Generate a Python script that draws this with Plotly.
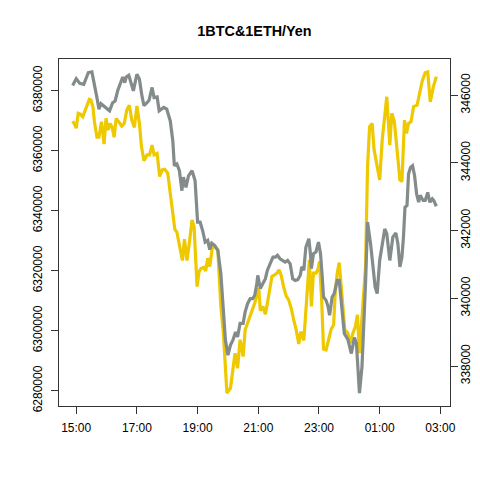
import plotly.graph_objects as go

# 1 BTC in yen (left axis)
btc_time = ["14:53", "14:56", "15:00", "15:04", "15:08", "15:13", "15:18", "15:22", "15:26", "15:29",
            "15:33", "15:36", "15:41", "15:45", "15:50", "15:53", "15:55", "15:59", "16:03", "16:07",
            "16:11", "16:15", "16:19", "16:24", "16:30", "16:35", "16:40", "16:45", "16:50", "16:55",
            "17:00", "17:05", "17:09", "17:14", "17:20", "17:25", "17:30", "17:34", "17:40", "17:45",
            "17:50", "17:55", "18:01", "18:06", "18:11", "18:15", "18:19", "18:24", "18:30", "18:34",
            "18:39", "18:44", "18:49", "18:53", "18:59", "19:03", "19:07", "19:12", "19:16", "19:20",
            "19:24", "19:29", "19:34", "19:40", "19:46", "19:51", "19:58", "20:05", "20:14", "20:19",
            "20:24", "20:30", "20:34", "20:41", "20:49", "20:54", "21:01", "21:04", "21:09", "21:14",
            "21:18", "21:22", "21:27", "21:32", "21:37", "21:41", "21:45", "21:50", "21:55", "22:00",
            "22:05", "22:10", "22:15", "22:20", "22:24", "22:30", "22:34", "22:38", "22:41", "22:45",
            "22:49", "22:54", "22:58", "23:01", "23:05", "23:09", "23:14", "23:19", "23:24", "23:29",
            "23:32", "23:36", "23:40", "23:44", "23:51", "23:57", "00:02", "00:07", "00:12", "00:16",
            "00:20", "00:32", "00:36", "00:40", "00:45", "00:49", "00:55", "01:00", "01:05", "01:09",
            "01:14", "01:20", "01:24", "01:29", "01:34", "01:40", "01:44", "01:49", "01:53", "01:57",
            "02:02", "02:07", "02:14", "02:19", "02:24", "02:30", "02:35", "02:40", "02:46", "02:52"]
btc_yen = [6369900, 6369100, 6367500, 6372500, 6372200, 6371300, 6373600, 6375800, 6377100, 6376900,
           6374700, 6369700, 6364500, 6364500, 6369700, 6365600, 6362200, 6370800, 6366900, 6369100,
           6367800, 6364500, 6370800, 6369700, 6368200, 6369100, 6373600, 6375200, 6370200, 6367800,
           6374900, 6369100, 6361400, 6356700, 6358600, 6358600, 6361900, 6358600, 6359100, 6351400,
           6353600, 6353800, 6352500, 6345800, 6339200, 6333800, 6332900, 6328100, 6323400, 6330500,
           6323400, 6329700, 6336900, 6334700, 6314700, 6319700, 6320800, 6321100, 6319900, 6324200,
           6321400, 6327500, 6328100, 6326900, 6308100, 6299200, 6279200, 6280900, 6292500, 6287500,
           6297000, 6291400, 6300300, 6303600, 6307000, 6309700, 6314200, 6306700, 6308100, 6305500,
           6309200, 6313600, 6318100, 6318600, 6319200, 6320300, 6318600, 6314700, 6311600, 6310300,
           6307500, 6303600, 6300300, 6295600, 6299700, 6296800, 6308100, 6319200, 6323600, 6308100,
           6319200, 6319200, 6320500, 6323100, 6311400, 6293900, 6293600, 6297000, 6300500, 6302000,
           6312500, 6319200, 6322700, 6314700, 6300300, 6299200, 6295900, 6299200, 6301400, 6305300,
           6292500, 6321400, 6354700, 6368000, 6369100, 6360200, 6354700, 6350300, 6363600, 6371300,
           6378000, 6361900, 6372500, 6369700, 6360200, 6350300, 6349700, 6370200, 6365800, 6369100,
           6369700, 6374700, 6375200, 6379100, 6383200, 6386000, 6386300, 6376300, 6381300, 6384700]

# 1 ETH in yen (right axis)
eth_time = ["14:53", "15:00", "15:07", "15:15", "15:24", "15:31", "15:41", "15:45", "15:49", "15:54",
            "16:01", "16:06", "16:12", "16:17", "16:22", "16:28", "16:32", "16:36", "16:39", "16:44",
            "16:49", "16:53", "17:00", "17:05", "17:10", "17:14", "17:20", "17:24", "17:30", "17:34",
            "17:40", "17:44", "17:53", "17:59", "18:06", "18:11", "18:14", "18:19", "18:24", "18:29",
            "18:32", "18:37", "18:42", "18:49", "18:55", "19:00", "19:05", "19:10", "19:15", "19:20",
            "19:24", "19:28", "19:34", "19:40", "19:46", "19:51", "19:55", "20:00", "20:05", "20:10",
            "20:15", "20:19", "20:24", "20:30", "20:34", "20:39", "20:44", "20:49", "20:53", "20:57",
            "20:59", "21:04", "21:09", "21:14", "21:18", "21:24", "21:29", "21:34", "21:38", "21:43",
            "21:49", "21:53", "21:58", "22:03", "22:08", "22:13", "22:18", "22:23", "22:26", "22:30",
            "22:34", "22:40", "22:43", "22:45", "22:49", "22:54", "22:59", "23:03", "23:06", "23:09",
            "23:14", "23:18", "23:21", "23:26", "23:30", "23:36", "23:40", "23:44", "23:50", "23:57",
            "00:04", "00:10", "00:14", "00:20", "00:25", "00:32", "00:36", "00:42", "00:47", "00:51",
            "00:55", "01:00", "01:10", "01:14", "01:20", "01:26", "01:32", "01:36", "01:40", "01:44",
            "01:47", "01:50", "01:54", "01:57", "02:01", "02:05", "02:09", "02:13", "02:17", "02:20",
            "02:26", "02:30", "02:35", "02:39", "02:44", "02:47", "02:52"]
eth_yen = [346290, 346490, 346350, 346320, 346670, 346690, 345930, 345590, 345750, 345690,
           345590, 345540, 345780, 345830, 346130, 346420, 346540, 346370, 346540, 346590,
           346320, 346130, 346620, 346470, 345980, 345690, 345780, 345850, 346230, 345930,
           345950, 345540, 345640, 345590, 345240, 344650, 343920, 343970, 343770, 343180,
           343580, 343280, 343620, 343770, 343480, 342250, 342250, 342000, 341660, 341710,
           341440, 341630, 341560, 341420, 340730, 339750, 338770, 338320, 338620, 338770,
           339010, 338860, 339260, 339260, 339600, 339850, 339990, 339990, 340090, 340430,
           340680, 340290, 340430, 340580, 340830, 341070, 341220, 341220, 341270, 341170,
           341120, 341070, 341120, 341020, 340580, 340530, 340550, 340680, 340930, 340830,
           341510, 341760, 341320, 340880, 341320, 341370, 341660, 341320, 340730, 340040,
           339940, 339750, 339500, 340040, 340140, 340530, 340530, 339940, 338960, 338790,
           338370, 338840, 338670, 337200, 337980, 340430, 342250, 341610, 340930, 340340,
           340140, 341120, 342050, 341910, 341120, 341810, 341930, 341610, 340930, 341220,
           341810, 342690, 342740, 343670, 343870, 343920, 343620, 343080, 342840, 343040,
           342890, 342890, 343130, 342840, 342940, 342890, 342720]

x_ticks = ["15:00", "17:00", "19:00", "21:00", "23:00", "01:00", "03:00"]
btc_ticks = [6280000, 6300000, 6320000, 6340000, 6360000, 6380000]
eth_ticks = [338000, 340000, 342000, 344000, 346000]


def stamp(hm):
    # evening belongs to the first day, small hours to the next one
    day = "2021-04-24" if int(hm[:2]) >= 12 else "2021-04-25"
    return day + " " + hm


font = "Liberation Sans, Arial, sans-serif"
axcol = "#333333"

fig = go.Figure()
fig.add_trace(go.Scatter(
    x=[stamp(t) for t in btc_time], y=btc_yen, mode="lines",
    line=dict(color="#EEC900", width=3.2), name="BTC", yaxis="y"
))
fig.add_trace(go.Scatter(
    x=[stamp(t) for t in eth_time], y=eth_yen, mode="lines",
    line=dict(color="#838B8B", width=3.2), name="ETH", yaxis="y2"
))

# the page body keeps its 8px margin, so the figure is 8px smaller
fig.update_layout(
    width=472, height=472, autosize=False,
    margin=dict(l=51, r=30, t=51, b=74),
    paper_bgcolor="white", plot_bgcolor="white",
    showlegend=False,
    font=dict(family=font, size=12, color="black"),
    title=dict(text="1BTC&1ETH/Yen", x=0.5, xref="paper", xanchor="center",
               y=1 - 23 / 472, yref="container", yanchor="middle", automargin=False,
               font=dict(family=font, size=14.4, color="black", weight="bold")),
    xaxis=dict(
        type="date", range=[stamp("14:26"), stamp("03:19")],
        tickvals=[stamp(t) for t in x_ticks], ticktext=x_ticks,
        showline=True, linecolor=axcol, linewidth=1, mirror=True,
        ticks="outside", ticklen=7, tickcolor=axcol, showgrid=False, zeroline=False,
        ticklabelstandoff=4, automargin=False,
    ),
    yaxis=dict(
        range=[6274916, 6390584],
        tickvals=btc_ticks, ticktext=[str(v) for v in btc_ticks], tickangle=-90,
        showline=True, linecolor=axcol, linewidth=1, mirror=True,
        ticks="outside", ticklen=7, tickcolor=axcol, showgrid=False, zeroline=False,
        ticklabelstandoff=4, automargin=False,
    ),
    yaxis2=dict(
        range=[336820, 347070], overlaying="y", side="right",
        tickvals=eth_ticks, ticktext=[str(v) for v in eth_ticks], tickangle=-90,
        showline=True, linecolor=axcol, linewidth=1,
        ticks="outside", ticklen=7, tickcolor=axcol, showgrid=False, zeroline=False,
        ticklabelstandoff=-2, automargin=False,
    ),
)

fig.write_html("out.html")
